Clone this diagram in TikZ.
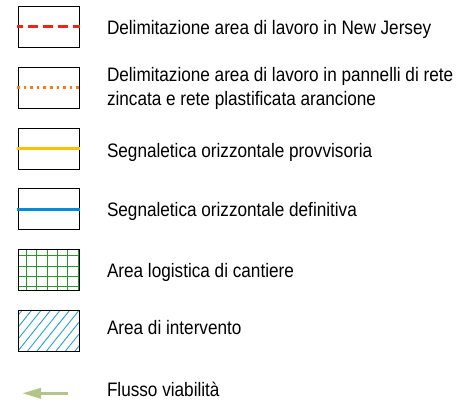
\documentclass[tikz,border=0pt]{standalone}
\usepackage{fontspec}
\setmainfont{Liberation Sans}[FakeStretch=0.88]
\usetikzlibrary{arrows.meta}
\definecolor{cred}{RGB}{240,36,20}
\definecolor{corange}{RGB}{255,120,20}
\definecolor{cyellow}{RGB}{255,192,0}
\definecolor{cblue}{RGB}{0,140,214}
\definecolor{cgreen}{RGB}{40,150,40}
\definecolor{chatch}{RGB}{40,160,225}
\definecolor{colive}{RGB}{180,196,136}
\begin{document}
\begin{tikzpicture}[x=1pt,y=-1pt,
  legbox/.style={draw=black, line width=1pt, minimum width=61pt, minimum height=41pt, inner sep=0pt, outer sep=0pt},
  lbl/.style={anchor=base west, inner sep=0pt, outer sep=0pt, font=\fontsize{19.5}{22}\selectfont},
  legline/.style={line width=2.8pt}]
\useasboundingbox (0,0) rectangle (468,407);
% boxes
\node[legbox] (b1) at (48.5,26.8) {};
\node[legbox] (b2) at (48.5,87.5) {};
\node[legbox] (b3) at (48.5,148.7) {};
\node[legbox] (b4) at (48.5,209.3) {};
\node[legbox, fill=white] (b5) at (48.5,270) {};
\node[legbox] (b6) at (48.5,330.8) {};
% lines
\draw[legline, cred, dash pattern=on 10pt off 5pt, dash phase=4.5pt] ([xshift=-1pt]b1.west) -- ([xshift=1pt]b1.east);
\draw[legline, corange, dash pattern=on 2.6pt off 4pt] ([xshift=-1pt]b2.west) -- ([xshift=1pt]b2.east);
\draw[legline, cyellow] ([xshift=-1pt]b3.west) -- ([xshift=1pt]b3.east);
\draw[legline, cblue] ([xshift=-1pt]b4.west) -- ([xshift=1pt]b4.east);
% grid
\begin{scope}
  \clip (b5.south west) rectangle (b5.north east);
  \foreach \k in {0,...,5} \draw[cgreen, line width=1pt] (26.3+10.4*\k,240) -- (26.3+10.4*\k,300);
  \foreach \k in {0,...,3} \draw[cgreen, line width=1pt] (10,255.7+10.3*\k) -- (90,255.7+10.3*\k);
\end{scope}
\node[legbox] at (b5) {};
% hatch
\begin{scope}
  \clip (b6.south west) rectangle (b6.north east);
  \foreach \k in {-6,...,8} \draw[chatch, line width=0.9pt] (18+9.5*\k,351) -- ++(32.8,-41);
\end{scope}
\node[legbox] at (b6) {};
% arrow
\coordinate (af) at (68,393.3);
\coordinate (at) at (22,393.3);
\draw[colive, line width=3.5pt, -{Triangle[length=19pt,width=10pt]}] (af) -- (at);
% labels
\node[lbl] (t1) at (107,34.5) {Delimitazione area di lavoro in New Jersey};
\node[lbl] (t2a) at (107,81) {Delimitazione area di lavoro in pannelli di rete};
\node[lbl] (t2b) at (107,105) {zincata e rete plastificata arancione};
\node[lbl] (t3) at (107,157) {Segnaletica orizzontale provvisoria};
\node[lbl] (t4) at (107,216) {Segnaletica orizzontale definitiva};
\node[lbl] (t5) at (107,277) {Area logistica di cantiere};
\node[lbl] (t6) at (107,334) {Area di intervento};
\node[lbl] (t7) at (107,396) {Flusso viabilità};
\end{tikzpicture}
\end{document}
